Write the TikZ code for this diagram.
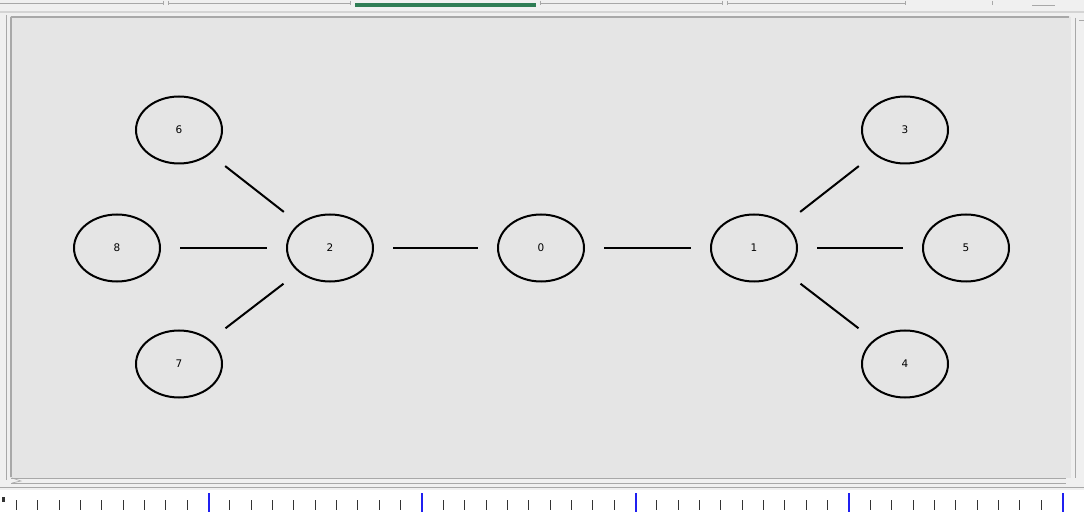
\documentclass[tikz,border=0pt]{standalone}
\usepackage{fontspec}
\setmainfont{DejaVu Sans}
\usetikzlibrary{shapes.geometric}
\definecolor{winbg}{HTML}{F0F0F0}
\definecolor{panelbg}{HTML}{E5E5E5}
\definecolor{chrome}{HTML}{A8A8A8}
\definecolor{chromelt}{HTML}{D4D4D4}
\definecolor{tabgreen}{HTML}{2F7D55}
\definecolor{rulerblue}{HTML}{2020F0}
\tikzset{
  vertex/.style={ellipse, draw=black, line width=2bp, minimum width=86bp, minimum height=67bp, inner sep=0pt, font=\fontsize{10.5}{11}\selectfont},
  edge/.style={line width=2bp, shorten <=19bp, shorten >=19bp},
  tick/.style={line width=1.2bp, black!80},
  bluetick/.style={line width=2bp, rulerblue}
}
\begin{document}
\begin{tikzpicture}[x=1bp,y=-1bp]
\useasboundingbox (0,0) rectangle (1084,514);
% window background
\fill[winbg] (0,0) rectangle (1084,514);
% tab strip
\draw[chrome, line width=1bp] (0,4) -- (163,4) (168,4) -- (350,4) (540,4) -- (722,4) (727,4) -- (905,4);
\draw[chrome, line width=0.8bp] (163,1) -- (163,5) (168,1) -- (168,5) (350,1) -- (350,5) (540,1) -- (540,5) (722,1) -- (722,5) (727,1) -- (727,5) (905,1) -- (905,5) (992,1) -- (992,5);
\fill[tabgreen] (355,3) rectangle (536,7);
\draw[chrome, line width=0.8bp] (1032,5) -- (1055,5);
\draw[chromelt, line width=2bp] (0,12) -- (1084,12);
% outer left line
\draw[chrome, line width=1bp] (6,15) -- (6,480);
% panel
\fill[panelbg] (10,16) rectangle (1070,478);
\draw[chrome, line width=1.2bp] (11,17) -- (1069,17);
\draw[chrome, line width=1.2bp] (11,17) -- (11,477);
\draw[white!90!black, line width=0.8bp] (1070,17) -- (1070,478);
% horizontal scrollbar
\draw[chrome, line width=0.8bp] (11,478) -- (1066,478);
\draw[chrome, line width=0.8bp] (11,483) -- (1066,483);
\draw[chrome, line width=0.6bp] (12,478) -- (21,481) -- (12,483);
% vertical scrollbar
\draw[chrome, line width=0.8bp] (1075,18) -- (1075,478);
\draw[chrome, line width=0.6bp] (1079,20) -- (1084,20);
% bottom separator
\draw[chrome, line width=1bp] (0,487) -- (1084,487);
% ruler
\fill[white] (0,490) rectangle (1084,514);
\fill[black!80] (2,497) rectangle (5,502);
\foreach \i in {0,...,49}{
  \pgfmathsetmacro{\xx}{round(15.8+21.35*\i)+0.5}
  \pgfmathtruncatemacro{\m}{mod(\i+1,10)}
  \ifnum\m=0
    \draw[bluetick] (\xx,493) -- (\xx,512);
  \else
    \draw[tick] (\xx,500) -- (\xx,510);
  \fi
}
% graph
\node[vertex] (n6) at (179,130) {6};
\node[vertex] (n8) at (117,248) {8};
\node[vertex] (n7) at (179,364) {7};
\node[vertex] (n2) at (330,248) {2};
\node[vertex] (n0) at (541,248) {0};
\node[vertex] (n1) at (754,248) {1};
\node[vertex] (n3) at (905,130) {3};
\node[vertex] (n5) at (966,248) {5};
\node[vertex] (n4) at (905,364) {4};
\draw[edge] (n6) -- (n2);
\draw[edge] (n8) -- (n2);
\draw[edge] (n7) -- (n2);
\draw[edge] (n2) -- (n0);
\draw[edge] (n0) -- (n1);
\draw[edge] (n1) -- (n3);
\draw[edge] (n1) -- (n5);
\draw[edge] (n1) -- (n4);
\end{tikzpicture}
\end{document}
